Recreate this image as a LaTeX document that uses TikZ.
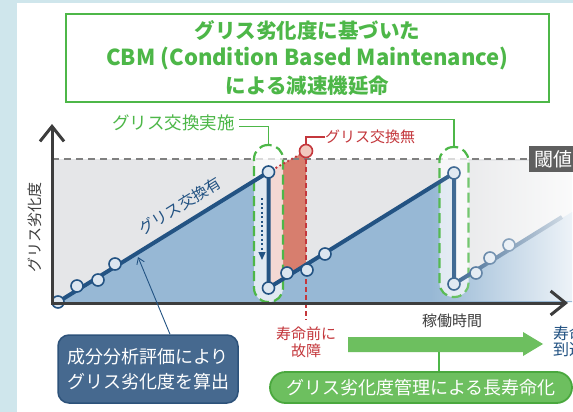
\documentclass[tikz,border=0pt]{standalone}
\usepackage{fontspec}
\setmainfont{Noto Sans CJK JP}
\usetikzlibrary{arrows.meta, positioning, fadings, shapes.misc}
\definecolor{cbmblue}{HTML}{235383}
\definecolor{wearfill}{HTML}{97B8D5}
\definecolor{spanfill}{HTML}{E5E6E8}
\definecolor{ptfill}{HTML}{DCE6F0}
\definecolor{cbmgreen}{HTML}{4DB748}
\definecolor{pillgreen}{HTML}{6DBF5F}
\definecolor{pilledge}{HTML}{4AA83E}
\definecolor{failred}{HTML}{C4373C}
\definecolor{failfill}{HTML}{D77E6E}
\definecolor{failpt}{HTML}{F2C9BF}
\definecolor{boxblue}{HTML}{46698F}
\definecolor{boxedge}{HTML}{2D527A}
\definecolor{axisgray}{HTML}{3D3D3D}
\definecolor{limitgray}{HTML}{5F5F5F}
\definecolor{stripblue}{HTML}{CFE6EC}
\tikzset{x = 1pt, y = -1pt,
         every node/.style = {inner sep = 0pt},
         axisline/.style = {draw = axisgray, line width = 3pt,
           {Straight Barb[length = 15pt, width = 24pt]}-{Straight Barb[length = 15pt, width = 24pt]}},
         limitline/.style = {draw = gray, line width = 1.2pt, dash pattern = on 7pt off 5pt},
         wear/.style = {draw = cbmblue, line width = 4pt, line join = round},
         sample/.style = {circle, draw = cbmblue, fill = ptfill, line width = 1.6pt, minimum size = 12pt},
         failpoint/.style = {circle, draw = failred, fill = failpt, line width = 1.6pt, minimum size = 13pt},
         exchange/.style = {draw = cbmgreen, line width = 2.2pt, dash pattern = on 10pt off 5pt,
                            fill = white, fill opacity = .7, rounded corners = 14pt, minimum width = 29pt},
         nofail/.style = {draw = failred, line width = 2.6pt, dash pattern = on 0pt off 4.5pt, line cap = round},
         faildash/.style = {draw = failred, line width = 1.3pt, dash pattern = on 5pt off 3pt},
         drop/.style = {draw = cbmblue, line width = 1.3pt, dash pattern = on 2pt off 2.5pt,
                        -{Triangle[length = 8pt, width = 7pt]}},
         leader/.style = {draw = cbmgreen, line width = 1.5pt},
         redleader/.style = {draw = failred, line width = 1.5pt},
         pointer/.style = {draw = cbmblue, line width = .9pt, -{Straight Barb[length = 6pt, width = 8pt]}},
         titlebox/.style = {draw = cbmgreen, line width = 2pt, text = cbmgreen, align = center,
                            minimum width = 483pt, minimum height = 88pt,
                            font = \fontsize{20.5}{27.5}\selectfont\bfseries},
         limitbox/.style = {fill = limitgray, text = white, inner xsep = 5pt, minimum height = 26pt,
                            font = \fontsize{19}{21}\selectfont},
         donetext/.style = {text = cbmgreen, font = \fontsize{17.5}{20}\selectfont},
         failtext/.style = {text = failred, align = center, font = \fontsize{15}{17}\selectfont},
         axistext/.style = {text = axisgray, font = \fontsize{15}{17}\selectfont},
         slopetext/.style = {text = cbmblue, font = \fontsize{15.5}{17}\selectfont},
         reachtext/.style = {text = cbmblue, align = left, font = \fontsize{16}{16}\selectfont},
         method/.style = {fill = boxblue, draw = boxedge, line width = 1.5pt, rounded corners = 11pt,
                          text = white, align = center, minimum width = 180pt, minimum height = 68pt,
                          font = \fontsize{18}{25}\selectfont},
         pill/.style = {rounded rectangle, fill = pillgreen, draw = pilledge, line width = 1.8pt,
                        text = white, minimum width = 302pt, minimum height = 31pt,
                        font = \fontsize{18}{20}\selectfont}}

\begin{document}
\begin{tikzpicture}
    \useasboundingbox (0,0) rectangle (573,412);
    \clip (0,0) rectangle (573,412);
    \fill[stripblue] (0,0) rectangle (573,412);
    \fill[white] (17,3) rectangle (573,412);

    \coordinate (s0)  at (58,302);
    \coordinate (t1)  at (268.5,172);
    \coordinate (b1)  at (268.5,288);
    \coordinate (t2)  at (454,173);
    \coordinate (b2)  at (454,284);
    \coordinate (e3)  at (562,217);
    \coordinate (pf)  at (306,151);
    \coordinate (pfb) at (306,265);
    \coordinate (pfe) at (306,320);
    \coordinate (lim) at (529,159);

    \fill[spanfill] (52,159) rectangle (572,302);
    \fill[wearfill] (s0) -- (t1) -- (b1) -- (t2) -- (b2) -- (572,212) -- (572,302) -- (52,302) -- cycle;
    \fill[failfill] (t1) -- (pf) -- (pfb) -- (b1) -- cycle;
    \draw[limitline] (52,159) -- (lim);

    \node[exchange, minimum height = 157pt] (cap1) at (268.5,223.5) {};
    \node[exchange, minimum height = 150pt] (cap2) at (454,222) {};

    \draw[nofail]   (t1) -- (pf);
    \draw[faildash] (pf) -- (pfe);
    \draw[wear]     (s0) -- (t1) -- (b1) -- (t2) -- (b2) -- (e3);
    \draw[drop]     (262,198) -- (262,260);

    \foreach \px/\py [count = \i] in {58/302, 77/286, 98/280, 115/264, 268.5/172, 268.5/288,
                                      287/273, 307/270, 325/254, 454/173, 454/284,
                                      476/273, 490/258, 509/245}
        \node[sample] (m\i) at (\px,\py) {};
    \node[failpoint] (fp) at (pf) {};

    \fill[white, path fading = west] (430,161) rectangle (600,301);

    \draw[axisline] (52,124) -- (52,303) -- (568,303);

    \node[titlebox] (title) at (307.5,58)
        {グリス劣化度に基づいた\\{\fontsize{22}{27.5}\selectfont CBM (Condition Based Maintenance)}\\による減速機延命};
    \node[limitbox, anchor = west]  (limit) at (lim)          {閾値};
    \node[donetext, anchor = east]  (done)  at (235,123)      {グリス交換実施};
    \node[failtext, anchor = west]  (skip)  at (325,137)      {グリス交換無};
    \node[axistext, rotate = 90]    (ylab)  at (35,227)       {グリス劣化度};
    \node[axistext]                 (xlab)  at (452,321)      {稼働時間};
    \node[slopetext, rotate = 32]   (slope) at (180,206)      {グリス交換有};
    \node[failtext] (fail) [below = 7pt of pfe]               {寿命前に\\故障};
    \node[reachtext, anchor = west] (reach) at (553,341)      {寿命\\到達};
    \node[method]                   (meth)  at (148,369)      {成分分析評価により\\グリス劣化度を算出};
    \node[pill]                     (pill)  at (421,387.5)    {グリス劣化度管理による長寿命化};

    \fill[pillgreen] (348,337) -- (523,337) -- (523,332) -- (543,344) -- (523,356)
                     -- (523,352) -- (348,352) -- cycle;
    \coordinate (gj)  at (439,352);
    \coordinate (hit) at (138,257);

    \draw[leader]    ([xshift = 4pt, yshift = 3.5pt]done.east) -| (cap2.north);
    \draw[leader]    ([xshift = 4pt, yshift = -3.5pt]done.east) -| (cap1.north);
    \draw[redleader] (fp.north) |- (skip.west);
    \draw[leader]    (gj) -- (gj |- pill.north);
    \draw[pointer]   ([xshift = 22pt]meth.north) -- (hit);
\end{tikzpicture}
\end{document}
